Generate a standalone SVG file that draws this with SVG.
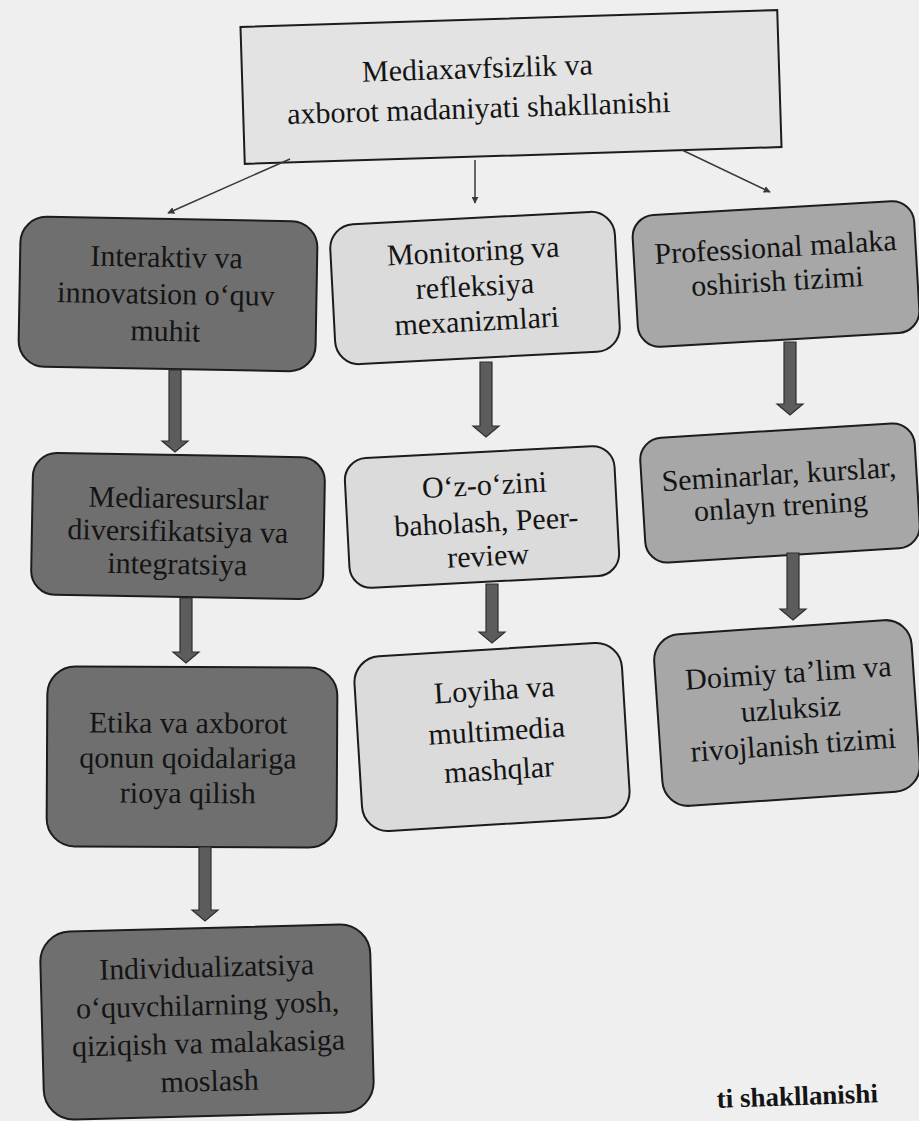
<svg xmlns="http://www.w3.org/2000/svg" width="919" height="1121" viewBox="0 0 919 1121">
<defs>
<style>
.t{font-family:"Liberation Serif","Times New Roman",serif;font-size:30px;fill:#141414;text-anchor:middle}
.box{stroke:#1c1c1c;stroke-width:2}
.dark{fill:#6f6f6f}
.light{fill:#dbdbdb}
.mid{fill:#a7a7a7}
.title{fill:#e3e3e3}
.thin{stroke:#3a3a3a;stroke-width:1.5;fill:none;marker-end:url(#ah)}
.thick{fill:#5c5c5c;stroke:#2e2e2e;stroke-width:1.2}
.cap{font-family:"Liberation Serif","Times New Roman",serif;font-size:27px;font-weight:bold;fill:#141414;text-anchor:end}
</style>
<marker id="ah" viewBox="0 0 10 10" refX="9" refY="5" markerWidth="7" markerHeight="7" orient="auto" markerUnits="userSpaceOnUse">
<path d="M0,0 L10,5 L0,10 Z" fill="#3a3a3a"/>
</marker>
</defs>
<rect x="0" y="0" width="919" height="1121" fill="#efefef"/>

<g id="title" transform="rotate(-1.8 511 87)">
<rect class="box title" x="242.5" y="18.5" width="537" height="137"/>
<text class="t" x="478" y="77">Mediaxavfsizlik va</text>
<text class="t" x="478" y="117">axborot madaniyati shakllanishi</text>
</g>

<g id="n-interaktiv" transform="rotate(1 168 294)">
<rect class="box dark" x="19.5" y="219" width="297" height="150" rx="26"/>
<text class="t" x="166" y="267">Interaktiv va</text>
<text class="t" x="166" y="304">innovatsion o‘quv</text>
<text class="t" x="166" y="341">muhit</text>
</g>

<g id="n-mediaresurslar" transform="rotate(1 178 526)">
<rect class="box dark" x="32" y="455" width="292" height="142" rx="24"/>
<text class="t" x="178" y="508">Mediaresurslar</text>
<text class="t" x="178" y="541">diversifikatsiya va</text>
<text class="t" x="178" y="574">integratsiya</text>
</g>

<g id="n-etika" transform="rotate(0.3 192 757)">
<rect class="box dark" x="47" y="667" width="290" height="180" rx="28"/>
<text class="t" x="188" y="733">Etika va axborot</text>
<text class="t" x="188" y="768">qonun qoidalariga</text>
<text class="t" x="188" y="803">rioya qilish</text>
</g>

<g id="n-individual" transform="rotate(-1.5 207 1022)">
<rect class="box dark" x="42" y="928" width="330" height="188" rx="30"/>
<text class="t" x="208" y="977">Individualizatsiya</text>
<text class="t" x="208" y="1015">o‘quvchilarning yosh,</text>
<text class="t" x="208" y="1053">qiziqish va malakasiga</text>
<text class="t" x="208" y="1091">moslash</text>
</g>

<g id="n-monitoring" transform="rotate(-3 475 288)">
<rect class="box light" x="332.5" y="218" width="285" height="140" rx="24"/>
<text class="t" x="475" y="261">Monitoring va</text>
<text class="t" x="475" y="296">refleksiya</text>
<text class="t" x="475" y="331">mexanizmlari</text>
</g>

<g id="n-ozozini" transform="rotate(-3 482 517)">
<rect class="box light" x="347" y="452" width="270" height="130" rx="22"/>
<text class="t" x="486" y="495">O‘z-o‘zini</text>
<text class="t" x="486" y="532">baholash, Peer-</text>
<text class="t" x="486" y="566">review</text>
</g>

<g id="n-loyiha" transform="rotate(-3.5 492 737)">
<rect class="box light" x="358" y="649.5" width="268" height="175" rx="26"/>
<text class="t" x="497" y="700">Loyiha va</text>
<text class="t" x="497" y="741">multimedia</text>
<text class="t" x="497" y="780">mashqlar</text>
</g>

<g id="n-professional" transform="rotate(-3.3 776 274)">
<rect class="box mid" x="635" y="208" width="282" height="132" rx="22"/>
<text class="t" x="777" y="257">Professional malaka</text>
<text class="t" x="777" y="291">oshirish tizimi</text>
</g>

<g id="n-seminarlar" transform="rotate(-3.5 780 493)">
<rect class="box mid" x="642.5" y="430.5" width="275" height="125" rx="22"/>
<text class="t" x="780" y="484">Seminarlar, kurslar,</text>
<text class="t" x="780" y="516">onlayn trening</text>
</g>

<g id="n-doimiy" transform="rotate(-3.9 787 713)">
<rect class="box mid" x="658" y="627" width="258" height="172" rx="26"/>
<text class="t" x="791" y="683">Doimiy ta’lim va</text>
<text class="t" x="791" y="719">uzluksiz</text>
<text class="t" x="791" y="755">rivojlanish tizimi</text>
</g>

<g id="connectors">
<line class="thin" x1="290" y1="159" x2="168" y2="213"/>
<line class="thin" x1="475" y1="160" x2="475" y2="203"/>
<line class="thin" x1="682" y1="150" x2="770" y2="192"/>
<path class="thick" d="M169,370 L181,370 L181,441 L188,441 L175,452 L162,441 L169,441 Z"/>
<path class="thick" d="M180,598 L192,598 L192,652 L199,652 L186,663 L173,652 L180,652 Z"/>
<path class="thick" d="M199,847 L211,847 L211,910 L218,910 L205,921 L192,910 L199,910 Z"/>
<path class="thick" d="M480,362 L492,362 L492,426 L499,426 L486,437 L473,426 L480,426 Z"/>
<path class="thick" d="M486,584 L498,584 L498,632 L505,632 L492,643 L479,632 L486,632 Z"/>
<path class="thick" d="M784,342 L796,342 L796,404 L803,404 L790,415 L777,404 L784,404 Z"/>
<path class="thick" d="M787,553 L799,553 L799,609 L806,609 L793,620 L780,609 L787,609 Z"/>
</g>

<text class="cap" x="878" y="1105" transform="rotate(-2 800 1100)">ti shakllanishi</text>
</svg>
